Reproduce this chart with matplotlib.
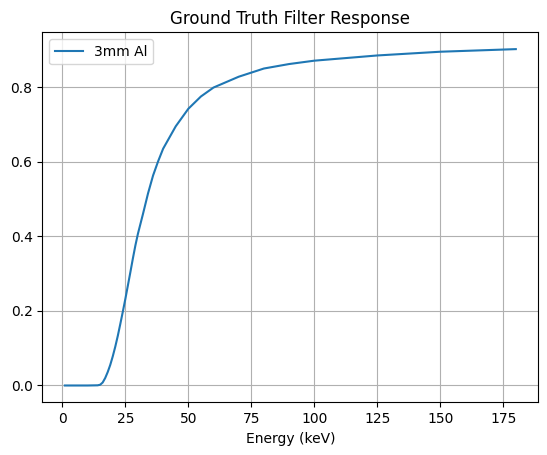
import matplotlib
matplotlib.use('Agg')
import matplotlib.pyplot as plt

# Transmission of a 3mm aluminium filter
energy = [1, 5, 10, 14, 15, 16, 17, 18, 19, 20, 21, 22, 23, 24, 25, 26, 27, 28, 29, 30,
          32, 34, 36, 38, 40, 45, 50, 55, 60, 70, 80, 90, 100, 125, 150, 180]
response = [0.0, 0.0, 0.0, 0.0005, 0.002, 0.008, 0.02, 0.036, 0.055, 0.078, 0.104, 0.133,
            0.165, 0.198, 0.232, 0.268, 0.304, 0.341, 0.376, 0.407,
            0.46, 0.515, 0.563, 0.601, 0.635, 0.695, 0.742, 0.775, 0.799, 0.828, 0.850,
            0.862, 0.871, 0.885, 0.895, 0.902]

fig = plt.figure(figsize=(5.47, 4.55), dpi=100)
ax = fig.add_axes([0.0774, 0.1158, 0.9068, 0.8132])

ax.plot(energy, response, label='3mm Al')
ax.set_xlabel('Energy (keV)')
ax.set_title('Ground Truth Filter Response')
ax.grid(True)
ax.legend(loc='upper left')

fig.savefig('out.png', dpi=100)
